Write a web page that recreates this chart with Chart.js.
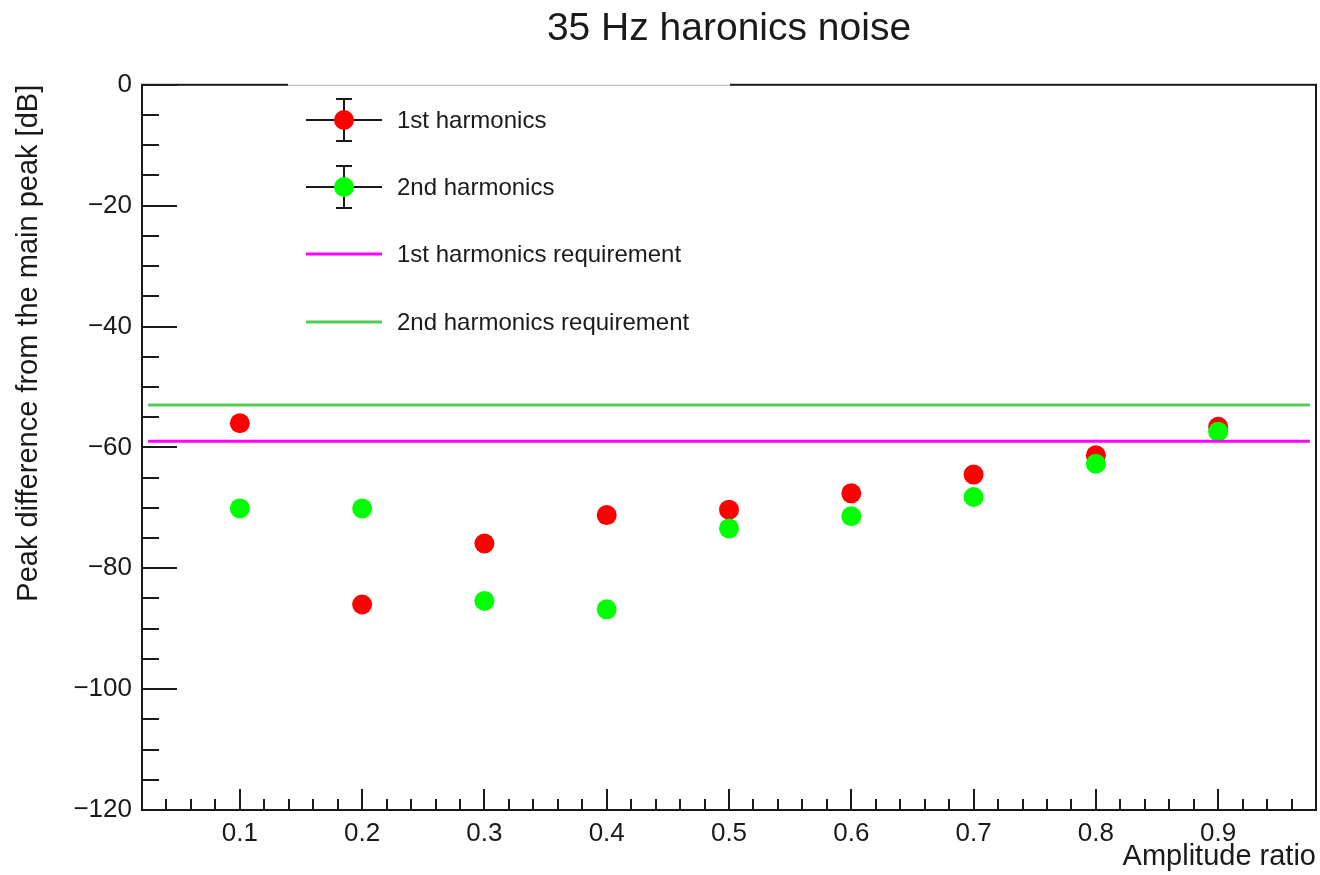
<!DOCTYPE html>
<html>
<head>
<meta charset="utf-8">
<title>35 Hz harmonics noise</title>
<script src="https://cdn.jsdelivr.net/npm/chart.js@4/dist/chart.umd.min.js"></script>
<style>
  html, body { margin: 0; padding: 0; background: #fff; }
  #wrap { width: 1320px; height: 875px; position: relative; }
</style>
</head>
<body>
<div id="wrap"><canvas id="noiseChart"></canvas></div>
<script>
// amplitude ratios of the measurements
const amplitudes = [0.1, 0.2, 0.3, 0.4, 0.5, 0.6, 0.7, 0.8, 0.9];
// peak difference from the main peak [dB]
const firstHarm = [-56.0, -86.0, -75.9, -71.2, -70.3, -67.6, -64.5, -61.3, -56.6];
const secondHarm = [-70.1, -70.1, -85.4, -86.8, -73.4, -71.4, -68.2, -62.7, -57.4];
// requirement levels and the x span they cover
const firstReq = -59;
const secondReq = -53;
const reqSpan = [0.025, 0.975];
// tick labels
const xTicks = [0.1, 0.2, 0.3, 0.4, 0.5, 0.6, 0.7, 0.8, 0.9];
const yTicks = [-120, -100, -80, -60, -40, -20, 0];

const FONT = "'Liberation Sans', Arial, Helvetica, sans-serif";
const INK = "#1a1a1a";

const points = (ys) => amplitudes.map((x, i) => ({ x: x, y: ys[i] }));
const flat = (y) => reqSpan.map(x => ({ x: x, y: y }));

// frame, inward ticks and the legend box, drawn the ROOT way
const frameAndLegend = {
  id: "frameAndLegend",
  afterDraw(chart) {
    const { ctx, chartArea: a, scales } = chart;
    const xs = scales.x, ys = scales.y;
    ctx.save();
    ctx.strokeStyle = INK;
    ctx.lineWidth = 2;

    // frame
    ctx.strokeRect(a.left, a.top, a.right - a.left, a.bottom - a.top);

    // y ticks: major every 20, minor every 5
    ctx.beginPath();
    for (let v = -120; v <= 0; v += 5) {
      const py = Math.round(ys.getPixelForValue(v));
      const len = v % 20 === 0 ? 35 : 17;
      ctx.moveTo(a.left, py);
      ctx.lineTo(a.left + len, py);
    }
    // x ticks: major every 0.1, minor every 0.02
    for (let k = 2; k <= 48; k++) {
      const v = k / 50;
      const px = Math.round(xs.getPixelForValue(v));
      const len = k % 5 === 0 ? 21 : 11;
      ctx.moveTo(px, a.bottom);
      ctx.lineTo(px, a.bottom - len);
    }
    ctx.stroke();

    // legend box sits over the top edge of the frame
    ctx.fillStyle = "#fff";
    ctx.fillRect(288, a.top - 2, 442, 4);
    ctx.strokeStyle = "#b4b4b4";
    ctx.lineWidth = 1;
    ctx.beginPath();
    ctx.moveTo(288, a.top + 0.5);
    ctx.lineTo(730, a.top + 0.5);
    ctx.stroke();

    const entries = [
      { label: "1st harmonics", kind: "marker", color: "#ff0000", y: 120 },
      { label: "2nd harmonics", kind: "marker", color: "#00ff00", y: 187 },
      { label: "1st harmonics requirement", kind: "line", color: "#ff00ff", y: 254 },
      { label: "2nd harmonics requirement", kind: "line", color: "#55c955", y: 322 }
    ];
    const sx0 = 306, sx1 = 382, cx = 344;
    entries.forEach(e => {
      if (e.kind === "marker") {
        ctx.strokeStyle = INK;
        ctx.lineWidth = 2;
        ctx.beginPath();
        ctx.moveTo(sx0, e.y); ctx.lineTo(sx1, e.y);
        ctx.moveTo(cx, e.y - 21); ctx.lineTo(cx, e.y + 21);
        ctx.moveTo(cx - 8, e.y - 21); ctx.lineTo(cx + 8, e.y - 21);
        ctx.moveTo(cx - 8, e.y + 21); ctx.lineTo(cx + 8, e.y + 21);
        ctx.stroke();
        ctx.fillStyle = e.color;
        ctx.beginPath();
        ctx.arc(cx, e.y, 10, 0, Math.PI * 2);
        ctx.fill();
      } else {
        ctx.strokeStyle = e.color;
        ctx.lineWidth = 3;
        ctx.beginPath();
        ctx.moveTo(sx0, e.y); ctx.lineTo(sx1, e.y);
        ctx.stroke();
      }
      ctx.fillStyle = INK;
      ctx.font = "24px " + FONT;
      ctx.textAlign = "left";
      ctx.textBaseline = "middle";
      ctx.fillText(e.label, 397, e.y + 1);
    });
    ctx.restore();
  }
};

new Chart(document.getElementById("noiseChart"), {
  type: "scatter",
  data: {
    datasets: [
      {
        label: "1st harmonics",
        data: points(firstHarm),
        backgroundColor: "#ff0000",
        borderWidth: 0,
        pointRadius: 10,
        order: 3
      },
      {
        label: "2nd harmonics",
        data: points(secondHarm),
        backgroundColor: "#00ff00",
        borderWidth: 0,
        pointRadius: 10,
        order: 2
      },
      {
        type: "line",
        label: "1st harmonics requirement",
        data: flat(firstReq),
        borderColor: "#ff00ff",
        borderWidth: 3,
        pointRadius: 0,
        order: 1
      },
      {
        type: "line",
        label: "2nd harmonics requirement",
        data: flat(secondReq),
        borderColor: "#55c955",
        borderWidth: 3,
        pointRadius: 0,
        order: 0
      }
    ]
  },
  options: {
    responsive: true,
    maintainAspectRatio: false,
    animation: false,
    layout: { autoPadding: false, padding: { left: 0, right: 4, top: 0, bottom: 0 } },
    plugins: {
      legend: { display: false },
      tooltip: { enabled: false },
      title: {
        display: true,
        text: "35 Hz haronics noise",
        fullSize: false,
        color: INK,
        font: { family: FONT, size: 39, weight: "normal", lineHeight: 1.2 },
        padding: { top: 6, bottom: 32 }
      }
    },
    scales: {
      x: {
        type: "linear",
        min: 0.02,
        max: 0.98,
        grid: { display: false, drawTicks: false },
        border: { display: false },
        afterBuildTicks: s => { s.ticks = xTicks.map(v => ({ value: v })); },
        afterFit: s => { s.height = 65; s.paddingLeft = 0; s.paddingRight = 0; },
        ticks: {
          color: INK,
          padding: 8,
          maxRotation: 0,
          font: { family: FONT, size: 26 },
          callback: v => Number(v).toFixed(1)
        },
        title: {
          display: true,
          text: "Amplitude ratio",
          align: "end",
          color: INK,
          font: { family: FONT, size: 29, lineHeight: 1 },
          padding: { top: 0, bottom: 4 }
        }
      },
      y: {
        type: "linear",
        min: -120,
        max: 0,
        grid: { display: false, drawTicks: false },
        border: { display: false },
        afterBuildTicks: s => { s.ticks = yTicks.map(v => ({ value: v })); },
        afterFit: s => { s.width = 142; s.paddingTop = 0; s.paddingBottom = 0; },
        ticks: {
          color: INK,
          padding: 10,
          font: { family: FONT, size: 26 },
          callback: v => v < 0 ? "\u2212" + Math.abs(v) : String(v)
        },
        title: {
          display: true,
          text: "Peak difference from the main peak [dB]",
          align: "end",
          color: INK,
          font: { family: FONT, size: 29, lineHeight: 1 },
          padding: { top: 14, bottom: 0 }
        }
      }
    }
  },
  plugins: [frameAndLegend]
});
</script>
</body>
</html>
